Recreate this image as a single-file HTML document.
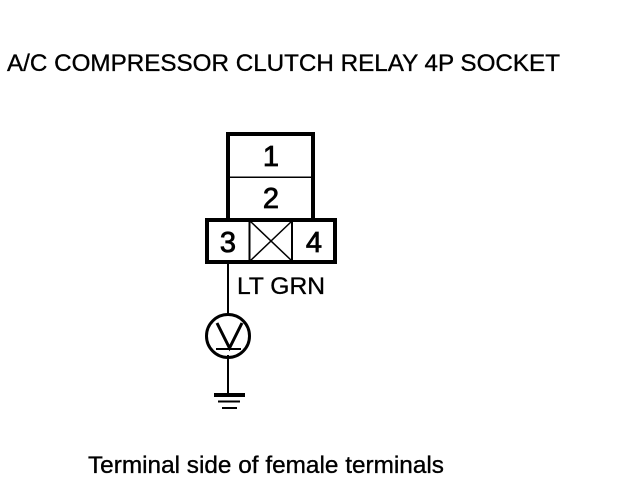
<!DOCTYPE html>
<html>
<head>
<meta charset="utf-8">
<style>
html,body{margin:0;padding:0;background:#fff;}
svg{display:block;}
text{font-family:"Liberation Sans",sans-serif;fill:#000;stroke:#000;stroke-width:0.35;}
</style>
</head>
<body>
<svg width="640" height="480" viewBox="0 0 640 480" xmlns="http://www.w3.org/2000/svg">
<rect width="640" height="480" fill="#fff"/>
<text x="7" y="71" font-size="24" textLength="553" lengthAdjust="spacingAndGlyphs">A/C COMPRESSOR CLUTCH RELAY 4P SOCKET</text>
<g stroke="#000" fill="none" shape-rendering="crispEdges">
<rect x="228" y="134" width="85" height="86" stroke-width="4"/>
<line x1="228" y1="177" x2="313" y2="177" stroke-width="1.5"/>
<rect x="207" y="220" width="128" height="42" stroke-width="4" fill="#fff"/>
<line x1="249.500" y1="220" x2="249.500" y2="262" stroke-width="2"/>
<line x1="292" y1="220" x2="292" y2="262" stroke-width="2"/>
<line x1="228" y1="262" x2="228" y2="315" stroke-width="2"/>
<line x1="228" y1="355" x2="228" y2="394" stroke-width="2"/>
<line x1="214" y1="395" x2="245" y2="395" stroke-width="4"/>
<line x1="218" y1="401.500" x2="240" y2="401.500" stroke-width="2"/>
<line x1="222" y1="408" x2="237" y2="408" stroke-width="2"/>
<line x1="216" y1="349" x2="241" y2="349" stroke-width="2"/>
</g>
<g stroke="#000" fill="none">
<line x1="250" y1="221" x2="292" y2="261" stroke-width="1.500"/>
<line x1="292" y1="221" x2="250" y2="261" stroke-width="1.500"/>
<circle cx="228" cy="336" r="21.500" stroke-width="3"/>
<polyline points="217,323 229.500,348 242,323" stroke-width="3"/>
</g>
<g style="stroke-width:0.8">
<text x="271" y="166" font-size="29" text-anchor="middle" style="stroke-width:0.8">1</text>
<text x="271" y="208" font-size="29" text-anchor="middle" style="stroke-width:0.8">2</text>
<text x="228" y="252" font-size="29" text-anchor="middle" style="stroke-width:0.8">3</text>
<text x="314" y="252" font-size="29" text-anchor="middle" style="stroke-width:0.8">4</text>
</g>
<text x="237" y="294" font-size="24" textLength="88" lengthAdjust="spacingAndGlyphs">LT GRN</text>
<text x="88" y="473" font-size="24" textLength="356" lengthAdjust="spacingAndGlyphs">Terminal side of female terminals</text>
</svg>
</body>
</html>
